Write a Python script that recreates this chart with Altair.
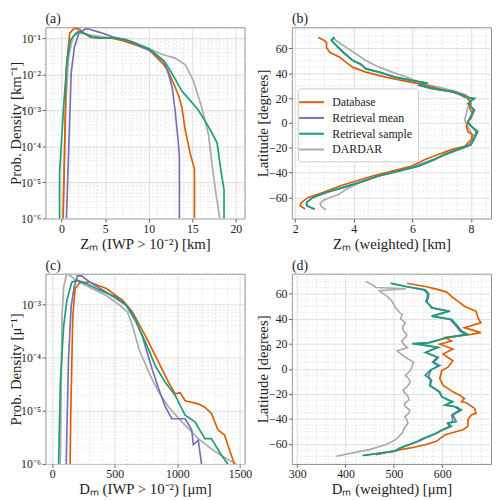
import altair as alt
import pandas as pd

SERIES = ["Database", "Retrieval mean", "Retrieval sample", "DARDAR"]
COLORS = ["#d95f02", "#7570b3", "#1b9e77", "#ababab"]
DRAW_ORDER = ["DARDAR", "Database", "Retrieval mean", "Retrieval sample"]
FONT = "Liberation Serif"

# ---------------- panel (a): PDF of Zm ----------------
a_db_x = [0.19, 0.53, 0.94, 1.47, 2.03, 2.6, 3.28, 4.4, 5.9, 7.0, 8.2, 10.1, 11.56, 12.13, 12.9, 13.45, 13.8, 14.2, 14.76, 15.25, 15.25]
a_db_y = [1e-6, 1.45e-2, 1.38e-1, 1.9e-1, 1.78e-1, 1.35e-1, 1.07e-1, 1.0e-1, 1.0e-1, 8.5e-2, 6.9e-2, 4.6e-2, 2.04e-2, 1.35e-2, 5.2e-3, 2.5e-3, 1.2e-3, 2.75e-4, 6.3e-5, 2.35e-5, 1e-6]
a_rm_x = [0.56, 1.1, 1.47, 1.96, 2.7, 3.0, 4.4, 5.9, 7.4, 8.9, 10.4, 11.75, 12.3, 12.7, 13.07, 13.37, 13.52, 13.52]
a_rm_y = [1e-6, 1.05e-2, 5.6e-2, 1.32e-1, 1.78e-1, 1.82e-1, 1.45e-1, 1.07e-1, 9.1e-2, 6.3e-2, 4.2e-2, 2.24e-2, 9.8e-3, 4.2e-3, 7.9e-4, 1.48e-4, 5.4e-5, 1e-6]
a_rs_x = [-0.23, -0.23, 0.26, 0.64, 1.0, 1.58, 1.96, 2.7, 3.47, 4.4, 6.3, 8.2, 10.05, 11.75, 12.3, 13.07, 13.8, 14.8, 15.7, 16.46, 17.2, 17.85, 18.3, 18.64, 18.64]
a_rs_y = [1e-6, 1.8e-5, 1.6e-3, 2.45e-2, 8.5e-2, 1.32e-1, 1.55e-1, 1.35e-1, 1.07e-1, 1.02e-1, 1.0e-1, 7.8e-2, 5.1e-2, 2.34e-2, 1.48e-2, 7.1e-3, 3.4e-3, 1.82e-3, 1.0e-3, 5.1e-4, 2.5e-4, 1.23e-4, 2.0e-5, 6.3e-6, 1e-6]
a_dd_x = [0.15, 0.45, 0.8, 1.3, 2.0, 3.0, 5.0, 7.0, 8.93, 10.4, 11.2, 12.2, 13.07, 14.2, 15.14, 16.08, 16.84, 17.3, 17.7, 18.16]
a_dd_y = [1e-6, 1e-3, 3e-2, 1.1e-1, 1.4e-1, 1.25e-1, 1.05e-1, 9e-2, 6.2e-2, 4.7e-2, 3.8e-2, 3.2e-2, 2.75e-2, 1.82e-2, 6.5e-3, 1.2e-3, 2.24e-4, 2.75e-5, 5.1e-6, 1e-6]

# ---------------- panel (b): latitude vs weighted Zm ----------------
b_db_lat = [68.8, 66.6, 64.8, 60.8, 56.8, 52.8, 48.8, 44.9, 40.9, 36.9, 33.7, 31.6, 28.9, 25, 22.3, 19.6, 15.6, 11.7, 7.7, 3.7, 1, -3, -7, -9.6, -13.6, -18.9, -21.5, -25.5, -29.5, -34.8, -38.8, -42.8, -46.8, -50.8, -56.1, -60, -64, -66.7, -69.3]
b_db_z = [2.79, 2.98, 3.07, 3.07, 3.18, 3.52, 3.74, 3.96, 4.41, 5.09, 5.76, 6.21, 6.66, 7.33, 7.78, 7.89, 8.0, 7.95, 8.06, 8.0, 7.89, 7.84, 7.89, 8.06, 8.0, 7.78, 7.33, 6.88, 6.43, 5.98, 5.31, 4.64, 4.08, 3.52, 2.95, 2.45, 2.22, 2.17, 2.34]
b_rs_lat = [68.8, 66.6, 62.1, 56.8, 50.2, 47.5, 43.5, 40.9, 36.9, 34.2, 32.1, 30.3, 27.6, 25, 21, 19.6, 15.6, 10.3, 5, 1, -1.6, -7, -12.2, -17.6, -21.5, -25.5, -29.5, -34.8, -38.8, -42.8, -48.1, -52.1, -56.1, -60, -64, -66.7, -69.5]
b_rs_z = [3.35, 3.23, 3.40, 3.63, 3.96, 4.24, 4.41, 4.86, 5.42, 5.98, 6.52, 6.21, 6.66, 7.44, 7.78, 8.12, 7.89, 8.12, 8.0, 7.89, 7.95, 8.23, 8.12, 8.0, 7.55, 7.1, 6.77, 6.21, 5.54, 4.86, 4.19, 3.63, 3.07, 2.62, 2.39, 2.39, 2.67]
b_rm_lat = [68.8, 66.6, 62.1, 56.8, 50.2, 47.5, 43.5, 40.9, 36.9, 34.2, 32.1, 30.3, 27.6, 25, 21, 19.6, 15.6, 10.3, 5, 1, -1.6, -7, -12.2, -17.6, -21.5, -25.5, -29.5, -34.8, -38.8, -42.8, -48.1, -52.1, -56.1, -60, -64, -66.7, -69.5]
b_rm_z = [3.33, 3.25, 3.42, 3.66, 3.98, 4.20, 4.44, 4.88, 5.40, 5.95, 6.45, 6.24, 6.70, 7.40, 7.80, 8.08, 7.92, 8.08, 7.98, 7.90, 7.97, 8.18, 8.10, 7.98, 7.52, 7.08, 6.74, 6.18, 5.50, 4.83, 4.16, 3.60, 3.05, 2.60, 2.40, 2.41, 2.66]
b_dd_lat = [69.3, 66.1, 60.8, 55.5, 50.2, 44.9, 40.9, 36.4, 31.6, 28.9, 25.7, 22.3, 18.3, 13, 7.7, 2.4, -3, -8.2, -13.6, -18.9, -22.9, -26.8, -30.8, -34.8, -38.8, -43.3, -48.1, -53.4, -57.5, -60, -62.5, -65, -67.5, -70]
b_dd_z = [3.29, 3.40, 3.74, 4.08, 4.41, 4.86, 5.31, 5.87, 6.32, 6.88, 7.44, 7.84, 8.0, 7.89, 7.84, 7.78, 7.89, 8.0, 8.06, 7.89, 7.44, 7.0, 6.55, 6.1, 5.42, 4.75, 4.19, 3.74, 3.5, 3.2, 2.95, 2.85, 2.9, 3.05]

# ---------------- panel (c): PDF of Dm ----------------
c_db_x = [144, 149, 165, 184, 223, 302, 433, 564, 643, 748, 852, 931, 983, 1023, 1062, 1167, 1220, 1272, 1324, 1377, 1403, 1455]
c_db_y = [1e-6, 8.3e-6, 5.9e-4, 2.0e-3, 2.63e-3, 2.63e-3, 2.0e-3, 1.2e-3, 7.2e-4, 2.5e-4, 8.1e-5, 3.4e-5, 2.1e-5, 2.2e-5, 1.55e-5, 1.35e-5, 1.17e-5, 8.9e-6, 4.4e-6, 3.5e-6, 2.3e-6, 1e-6]
c_rm_x = [113, 118, 131, 152, 176, 202, 236, 302, 433, 590, 643, 721, 800, 852, 905, 957, 1062, 1115, 1128, 1167, 1193]
c_rm_y = [1e-6, 4.1e-6, 9.3e-5, 9.1e-4, 2.14e-3, 3.47e-3, 3.47e-3, 2.63e-3, 1.7e-3, 9.8e-4, 6.8e-4, 2.5e-4, 6.0e-5, 2.57e-5, 1.17e-5, 7.1e-6, 7.1e-6, 4.4e-6, 2.3e-6, 2.8e-6, 1e-6]
c_rs_x = [52, 66, 92, 118, 157, 202, 275, 380, 511, 590, 669, 748, 826, 905, 983, 1062, 1141, 1220, 1272, 1351, 1403]
c_rs_y = [1e-6, 3.4e-5, 3.9e-4, 1.2e-3, 2.63e-3, 2.88e-3, 2.45e-3, 1.86e-3, 1.38e-3, 9.8e-4, 4.8e-4, 1.9e-4, 6.9e-5, 3.4e-5, 1.95e-5, 8.3e-6, 6.2e-6, 3.0e-6, 3.0e-6, 1.48e-6, 1e-6]
c_dd_x = [66, 79, 92, 118, 197, 302, 433, 538, 603, 643, 695, 774, 852, 931, 1036, 1167, 1298, 1429, 1470]
c_dd_y = [1e-6, 5.9e-4, 2.1e-3, 3.9e-3, 2.8e-3, 2.1e-3, 1.48e-3, 9.8e-4, 7.2e-4, 3.9e-4, 1.41e-4, 5.2e-5, 2.24e-5, 1.17e-5, 6.2e-6, 3.0e-6, 1.74e-6, 1.12e-6, 1e-6]

# ---------------- panel (d): latitude vs weighted Dm ----------------
d_db_lat = [68.4, 65.8, 63.5, 61.5, 60.5, 57.9, 53.9, 50, 46, 40.8, 36.8, 32.9, 28.9, 27.6, 25, 22.3, 19.7, 15.8, 11.8, 6.5, 1.3, -1.35, -7.9, -13.2, -15.8, -18.4, -21, -23.7, -26.3, -27.1, -31.6, -35.6, -36.9, -40.8, -46, -48.7, -52.7, -57.9, -60.6, -63.2, -65.8, -68.5]
d_db_dm = [527, 565, 590, 608, 612, 619, 633, 646, 670, 674, 680, 646, 680, 660, 606, 619, 595, 622, 602, 622, 612, 599, 595, 602, 612, 622, 636, 646, 640, 650, 667, 670, 660, 653, 653, 643, 606, 588, 565, 534, 497, 463]
d_rs_lat = [68.4, 65.8, 63.1, 60, 56.5, 53.9, 48.7, 46, 42.1, 39.5, 35.5, 30.2, 27.6, 25, 21, 20.2, 17.1, 13.1, 9.2, 5.2, 2.6, -1, -5.3, -9.2, -13.2, -18.4, -22.4, -26.3, -29, -30.3, -32.9, -36.9, -42.1, -43.4, -46, -48.7, -52, -55.3, -57.9, -63.2, -65.8, -69.2]
d_rs_dm = [493, 524, 565, 572, 571, 568, 578, 616, 578, 619, 629, 640, 653, 612, 572, 538, 592, 565, 592, 582, 595, 575, 565, 578, 575, 595, 599, 622, 606, 629, 640, 622, 629, 612, 619, 602, 585, 565, 551, 514, 503, 435]
d_rm_lat = [68.4, 65.8, 63.1, 60, 56.5, 53.9, 48.7, 46, 42.1, 39.5, 35.5, 30.2, 27.6, 25, 21, 20.2, 17.1, 13.1, 9.2, 5.2, 2.6, -1, -5.3, -9.2, -13.2, -18.4, -22.4, -26.3, -29, -30.3, -32.9, -36.9, -42.1, -43.4, -46, -48.7, -52, -55.3, -57.9, -63.2, -65.8, -69.2]
d_rm_dm = [495, 526, 562, 570, 569, 566, 580, 612, 580, 616, 626, 637, 648, 610, 575, 548, 589, 567, 589, 580, 592, 577, 572, 576, 574, 593, 600, 619, 607, 626, 636, 620, 622, 611, 615, 600, 584, 562, 549, 512, 501, 437]
d_dd_lat = [69.7, 67.1, 65, 64, 62.5, 60.5, 58.5, 56.5, 54, 51.3, 49, 47.3, 45, 43.4, 40, 36.8, 33.5, 30.2, 27.5, 25, 22.5, 19.7, 17, 14.4, 11.8, 9.2, 5.2, 1.3, -1.35, -5.3, -8, -10.6, -14.5, -17, -19.8, -22.5, -25, -27.5, -30.3, -33, -35.6, -38, -40.8, -43.5, -46, -51.3, -56.6, -60.6, -64.5, -67.1, -69.8]
d_dd_dm = [442, 456, 462, 525, 470, 476, 484, 490, 496, 500, 503, 507, 512, 517, 514, 524, 518, 520, 527, 524, 516, 520, 528, 507, 515, 524, 541, 537, 534, 524, 531, 534, 527, 519, 524, 530, 531, 522, 524, 533, 531, 523, 527, 529, 524, 517, 504, 483, 449, 415, 381]


def frame(series_xy):
    rows = []
    for name in DRAW_ORDER:
        xs, ys = series_xy[name]
        for i, (xv, yv) in enumerate(zip(xs, ys)):
            rows.append({"series": name, "x": xv, "y": yv, "idx": i})
    return pd.DataFrame(rows)


LOG_LABEL = "'10⁻' + ['⁰','¹','²','³','⁴','⁵','⁶','⁷'][round(-log(datum.value)/LN10)]"
MINUS_LABEL = "replace(datum.label, '-', '−')"


def panel(df, title, h, xdom, ydom, xvals, yvals, xminor, yminor, xtitle, ytitle,
          ylog=False, xfmt=None, ylabel=None, legend=None):
    if ylog:
        yscale = alt.Scale(domain=ydom, type="log", nice=False)
    else:
        yscale = alt.Scale(domain=ydom, nice=False, zero=False)
    xscale = alt.Scale(domain=xdom, nice=False, zero=False)
    xaxis_kw = dict(values=xvals, title=xtitle, labelExpr=MINUS_LABEL)
    if xfmt:
        xaxis_kw["format"] = xfmt
    xaxis = alt.Axis(**xaxis_kw)
    yaxis = alt.Axis(values=yvals, title=ytitle, labelExpr=ylabel or MINUS_LABEL)
    xminor = [v for v in xminor if xdom[0] < v < xdom[1]]
    yminor = [v for v in yminor if ydom[0] < v < ydom[1]]
    mx = alt.Chart(pd.DataFrame({"x": xminor})).mark_rule(
        color="#dedede", strokeWidth=0.7, strokeDash=[2, 2], clip=True
    ).encode(x=alt.X("x:Q", scale=xscale, axis=xaxis))
    my = alt.Chart(pd.DataFrame({"y": yminor})).mark_rule(
        color="#dedede", strokeWidth=0.7, strokeDash=[2, 2], clip=True
    ).encode(y=alt.Y("y:Q", scale=yscale, axis=yaxis))
    col = alt.Color("series:N", scale=alt.Scale(domain=SERIES, range=COLORS),
                    legend=legend)
    lines = alt.Chart(df).mark_line(strokeWidth=1.7, clip=True).encode(
        x=alt.X("x:Q", scale=xscale, axis=xaxis),
        y=alt.Y("y:Q", scale=yscale, axis=yaxis),
        color=col,
        order="idx:Q",
        detail="series:N",
    )
    return alt.layer(mx, my, lines).properties(width=202, height=h, title=title)


log_minor = [m * 10.0 ** e for e in range(-6, 0) for m in range(2, 10)]
lat_vals = [-60, -40, -20, 0, 20, 40, 60]
lat_minor = [v for v in range(-75, 80, 5) if v % 20 != 0]

df_a = frame({"Database": (a_db_x, a_db_y), "Retrieval mean": (a_rm_x, a_rm_y),
              "Retrieval sample": (a_rs_x, a_rs_y), "DARDAR": (a_dd_x, a_dd_y)})
df_b = frame({"Database": (b_db_z, b_db_lat), "Retrieval mean": (b_rm_z, b_rm_lat),
              "Retrieval sample": (b_rs_z, b_rs_lat), "DARDAR": (b_dd_z, b_dd_lat)})
df_c = frame({"Database": (c_db_x, c_db_y), "Retrieval mean": (c_rm_x, c_rm_y),
              "Retrieval sample": (c_rs_x, c_rs_y), "DARDAR": (c_dd_x, c_dd_y)})
df_d = frame({"Database": (d_db_dm, d_db_lat), "Retrieval mean": (d_rm_dm, d_rm_lat),
              "Retrieval sample": (d_rs_dm, d_rs_lat), "DARDAR": (d_dd_dm, d_dd_lat)})

pa = panel(df_a, "(a)", 194, [-1.85, 21.0], [1e-6, 0.2], [0, 5, 10, 15, 20],
           [1e-6, 1e-5, 1e-4, 1e-3, 1e-2, 1e-1],
           [v for v in range(-1, 22) if v % 5 != 0], log_minor,
           "Zₘ (IWP > 10⁻²) [km]", "Prob. Density [km⁻¹]", ylog=True, ylabel=LOG_LABEL)

legend_b = alt.Legend(
    title=None, orient="none", legendX=6, legendY=62,
    symbolType="M-1.8,0H1.8", symbolStrokeWidth=2, symbolSize=196,
    labelFontSize=12, labelFont=FONT, rowPadding=2, padding=6,
    strokeColor="#cccccc", fillColor="white", cornerRadius=3,
    labelColor="#222222", labelOffset=13,
)
pb = panel(df_b, "(b)", 194, [1.89, 8.68], [-77, 77], [2, 4, 6, 8], lat_vals,
           [2.5, 3, 3.5, 4.5, 5, 5.5, 6.5, 7, 7.5, 8.5], lat_minor,
           "Zₘ (weighted) [km]", "Latitude [degrees]", legend=legend_b)

pc = panel(df_c, "(c)", 193, [-53, 1537], [1e-6, 3.8e-3], [0, 500, 1000, 1500],
           [1e-6, 1e-5, 1e-4, 1e-3],
           [v for v in range(0, 1600, 100) if v % 500 != 0], log_minor,
           "Dₘ (IWP > 10⁻²) [μm]", "Prob. Density [μ⁻¹]", ylog=True, ylabel=LOG_LABEL, xfmt="d")

pd_ = panel(df_d, "(d)", 193, [289, 701], [-76, 76], [300, 400, 500, 600], lat_vals,
            [v for v in range(300, 701, 20) if v % 100 != 0], lat_minor,
            "Dₘ (weighted) [μm]", "Latitude [degrees]", legend=None)

chart = alt.concat(
    pa, pb, pc, pd_, columns=2,
    spacing=alt.RowColnumber(row=56, column=48), bounds="flush",
).resolve_legend(color="independent").properties(padding=0).configure(
    font=FONT
).configure_view(stroke="#8f8f8f", strokeWidth=1).configure_axis(
    domain=False, grid=True, gridColor="#d6d6d6", gridWidth=0.8,
    tickColor="#666666", tickSize=3.5, labelFontSize=12, titleFontSize=15,
    titleFontWeight="normal", labelColor="#222222", titleColor="#222222",
    labelFont=FONT, titleFont=FONT, labelPadding=1.5,
).configure_axisY(
    titleX=-37, titleBaseline="top",
).configure_axisX(
    titleY=18, titleBaseline="top",
).configure_title(
    fontSize=14, fontWeight="normal", anchor="start", frame="group", offset=1,
    font=FONT, color="#222222",
)

chart.save("out.html", embed_options={"renderer": "svg", "actions": False})
